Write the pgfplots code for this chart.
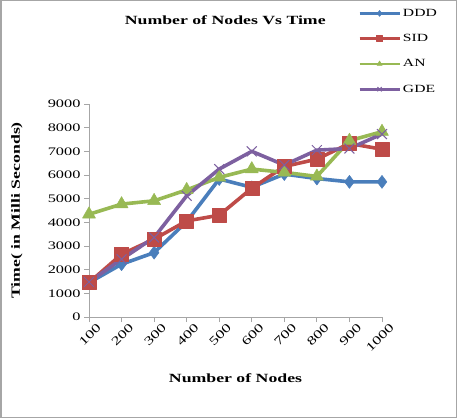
\documentclass[border=0pt]{standalone}
\usepackage{pgfplots}
\pgfplotsset{compat=1.18}
\usepackage{fontspec}
\setmainfont{Liberation Serif}[FakeStretch=1.42]
\definecolor{cDDD}{HTML}{4A7EBB}
\definecolor{cSID}{HTML}{BE4B48}
\definecolor{cAN}{HTML}{98B954}
\definecolor{cGDE}{HTML}{7D60A0}
\begin{document}
\begin{tikzpicture}
\fill[white] (0pt,0pt) rectangle (457pt,418pt);
\begin{axis}[
  at={(89pt,101pt)}, anchor=south west,
  scale only axis, width=293pt, height=213pt,
  xmin=0, xmax=9, ymin=0, ymax=9000,
  xtick={0,...,9},
  xticklabels={100,200,300,400,500,600,700,800,900,1000},
  xticklabel style={rotate=45, anchor=north east, inner sep=0.5pt, xshift=5pt, yshift=-5pt, font=\fontsize{12}{13}\selectfont},
  ytick={0,1000,...,9000},
  scaled y ticks=false,
  yticklabel style={/pgf/number format/1000 sep={}, font=\fontsize{11.5}{13}\selectfont},
  /pgf/number format/assume math mode=true,
  axis x line*=bottom, axis y line*=left,
  axis line style={gray!70, line width=0.8pt, -},
  tick style={gray!70, line width=0.8pt},
  tick align=outside, major tick length=5pt,
  xlabel={\textbf{Number of Nodes}},
  ylabel={\textbf{Time( in Milli Seconds)}},
  label style={font=\fontsize{12.5}{14}\selectfont},
  xlabel style={at={(0.5,-0.286)}, anchor=center},
  ylabel style={at={(-0.246,0.5)}, anchor=center},
  title={\textbf{Number of Nodes Vs Time}},
  title style={font=\fontsize{12.5}{14}\selectfont, at={(0.465,1.366)}, anchor=center},
  legend style={at={(0.918,1.456)}, anchor=north west, draw=none, fill=none,
    font=\fontsize{11}{13}\selectfont, row sep=12.5pt, inner sep=0pt},
  legend cell align=left,
  legend image code/.code={\draw[#1, mark repeat=2, mark phase=2, line width=2.8pt, mark size=3pt] plot coordinates {(0pt,0pt) (20pt,0pt) (40pt,0pt)};},
  every axis plot/.append style={line width=3.6pt, line join=round},
  clip=false,
]
\addplot[cDDD, mark=diamond*, mark size=6.5pt, mark options={solid, line width=0.5pt}] coordinates {
 (0,1450) (1,2230) (2,2720) (3,4030) (4,5830) (5,5480) (6,6040) (7,5850) (8,5710) (9,5710)};
\addlegendentry{DDD}
\addplot[cSID, mark=square*, mark size=7pt, mark options={solid, line width=0.5pt}] coordinates {
 (0,1450) (1,2650) (2,3290) (3,4060) (4,4300) (5,5440) (6,6360) (7,6670) (8,7330) (9,7090)};
\addlegendentry{SID}
\addplot[cAN, mark=triangle*, mark size=7.5pt, mark options={solid, line width=0.5pt}] coordinates {
 (0,4340) (1,4770) (2,4910) (3,5370) (4,5900) (5,6250) (6,6110) (7,5940) (8,7450) (9,7830)};
\addlegendentry{AN}
\addplot[cGDE, mark=x, mark size=7pt, mark options={solid, line width=1pt}] coordinates {
 (0,1480) (1,2440) (2,3360) (3,5120) (4,6250) (5,7000) (6,6420) (7,7050) (8,7120) (9,7730)};
\addlegendentry{GDE}
\end{axis}
\draw[gray!70, line width=1.5pt] (0.75pt,0.75pt) rectangle (456.25pt,417.25pt);
\end{tikzpicture}
\end{document}
